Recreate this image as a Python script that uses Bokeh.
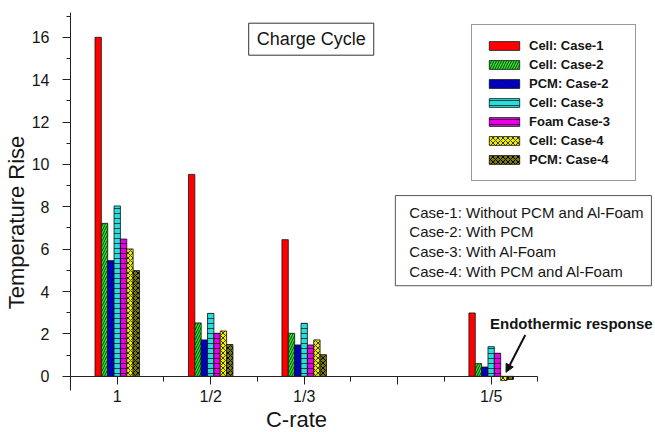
import math
from bokeh.plotting import figure
from bokeh.models import (Range1d, LinearAxis, FixedTicker, SingleIntervalTicker,
                          Legend, LegendItem, Label, Arrow, NormalHead)
from bokeh.embed import file_html
from bokeh.resources import INLINE

# ---- data ----
c_rate_labels = ["1", "1/2", "1/3", "1/5"]
c_rate_pos = [1, 2, 3, 5]

series_names = ["Cell: Case-1", "Cell: Case-2", "PCM: Case-2", "Cell: Case-3",
                "Foam Case-3", "Cell: Case-4", "PCM: Case-4"]
cell_case1 = [16.0, 9.53, 6.45, 2.99]
cell_case2 = [7.22, 2.52, 2.03, 0.60]
pcm_case2 = [5.46, 1.72, 1.48, 0.44]
cell_case3 = [8.04, 2.97, 2.50, 1.40]
foam_case3 = [6.48, 2.03, 1.48, 1.09]
cell_case4 = [6.01, 2.14, 1.72, -0.20]
pcm_case4 = [4.99, 1.50, 1.02, -0.15]
series_values = [cell_case1, cell_case2, pcm_case2, cell_case3, foam_case3, cell_case4, pcm_case4]

# ---- styles ----
fills = ["#FF0000", "#2EEA2E", "#0000E6", "#2ADCDC", "#E600E6", "#EEEE00", "#7A7A00"]
hatches = [None, "/", "/", "-", "-", "x", "x"]
hatch_cols = [None, "#0E3A0E", "#000070", "#0A4A4A", "#4A004A", "#3A3A00", "#000000"]
FONT = "Liberation Sans"
TXT = "#151515"
AX = "#222222"

# frame spans the whole height down to the window bottom; the y axis line is bounded
p = figure(width=655, height=432, x_range=Range1d(0.5, 6.758), y_range=Range1d(-2.651, 17.17),
           output_backend="svg", toolbar_location=None, x_axis_type=None,
           min_border_left=68, min_border_right=0, min_border_top=12, min_border_bottom=0)
p.outline_line_color = None
p.grid.visible = False
p.background_fill_color = "white"
p.border_fill_color = "white"

# y axis
ya = p.yaxis[0]
ya.bounds = (-0.66, 17.17)
ya.ticker = SingleIntervalTicker(interval=2, num_minor_ticks=2)
ya.major_tick_out = 8
ya.major_tick_in = 0
ya.minor_tick_out = 4
ya.minor_tick_in = 0
ya.major_label_standoff = 13
ya.major_label_text_font = FONT
ya.major_label_text_font_size = "16px"
ya.major_label_text_color = TXT
ya.axis_line_color = AX
ya.major_tick_line_color = AX
ya.minor_tick_line_color = AX

# y axis title (separate axis so the title is centred like the reference)
yt = LinearAxis(ticker=FixedTicker(ticks=[]), bounds=(0.23, 17.17), axis_line_color=None,
                major_tick_line_color=None, minor_tick_line_color=None,
                major_tick_out=0, major_tick_in=0, minor_tick_out=0, minor_tick_in=0,
                major_label_standoff=0, axis_label="Temperature Rise",
                axis_label_standoff=0, axis_label_text_font=FONT,
                axis_label_text_font_size="22px", axis_label_text_font_style="normal",
                axis_label_text_color=TXT)
p.add_layout(yt, "left")

# x axis line + ticks at y = 0
major_x = [1, 2, 3, 4, 5]
minor_x = [1.5, 2.5, 3.5, 4.5, 5.5]
xa = LinearAxis(fixed_location=0, bounds=(0.5, 5.5),
                ticker=FixedTicker(ticks=major_x, minor_ticks=minor_x),
                major_tick_in=0, major_tick_out=8, minor_tick_in=0, minor_tick_out=5,
                major_label_text_font_size="1px", major_label_text_color=None,
                major_label_standoff=0,
                axis_line_color=AX, major_tick_line_color=AX, minor_tick_line_color=AX)
p.add_layout(xa, "below")

# x tick labels + title, also anchored at y = 0
overrides = {pos: lab for pos, lab in zip(c_rate_pos, c_rate_labels)}
xb = LinearAxis(fixed_location=0, ticker=FixedTicker(ticks=c_rate_pos),
                major_label_overrides=overrides,
                bounds=(0.5, 5.33), axis_line_color=None, major_tick_line_color=None,
                minor_tick_line_color=None, major_tick_out=8, major_tick_in=0,
                minor_tick_out=0, minor_tick_in=0, major_label_standoff=4,
                major_label_text_font=FONT, major_label_text_font_size="16px",
                major_label_text_color=TXT, axis_label="C-rate", axis_label_standoff=-2,
                axis_label_text_font=FONT, axis_label_text_font_size="22px",
                axis_label_text_font_style="normal", axis_label_text_color=TXT)
p.add_layout(xb, "below")

# bars
bar_w = 0.068
items = []
for i, (name, vals) in enumerate(zip(series_names, series_values)):
    k = i - 3
    xs = [c + k * bar_w for c in c_rate_pos]
    kw = dict(fill_color=fills[i], line_color="#111", line_width=0.8)
    if hatches[i]:
        kw.update(hatch_pattern=hatches[i], hatch_color=hatch_cols[i], hatch_scale=5, hatch_weight=1)
    r = p.vbar(x=xs, top=vals, bottom=0, width=bar_w, **kw)
    items.append(LegendItem(label=name, renderers=[r]))

legend = Legend(items=items, location=(401, 251), glyph_width=38, glyph_height=11,
                label_height=12, label_width=93, spacing=4, padding=13, label_standoff=6,
                margin=0, label_text_font=FONT, label_text_font_size="13px",
                label_text_font_style="bold", label_text_color=TXT,
                border_line_color="#333", border_line_width=1,
                background_fill_color="white", background_fill_alpha=1)
p.add_layout(legend)

# annotation boxes
p.add_layout(Label(x=3.075, y=15.91, text="Charge Cycle", text_align="center",
                   text_baseline="middle", text_font=FONT, text_font_size="18px",
                   text_color=TXT, border_line_color="#333", border_line_width=1,
                   background_fill_color="white",
                   padding=dict(left=8, right=8, top=6, bottom=6)))
p.add_layout(Label(x=3.975, y=8.53,
                   text="Case-1: Without PCM and Al-Foam\nCase-2: With PCM\nCase-3: With Al-Foam\nCase-4: With PCM and Al-Foam",
                   text_align="left", text_baseline="top", text_font=FONT, text_font_size="15px",
                   text_line_height=1.16, text_color=TXT, border_line_color="#555",
                   border_line_width=1, background_fill_color="white",
                   padding=dict(left=14, right=7, top=8, bottom=6)))
p.add_layout(Label(x=4.988, y=2.50, text="Endothermic response", text_align="left",
                   text_baseline="alphabetic", text_font=FONT, text_font_size="15px",
                   text_font_style="bold", text_color=TXT))
p.add_layout(Arrow(x_start=5.365, y_start=1.954, x_end=5.159, y_end=0.19, line_width=2,
                   line_color="#111",
                   end=NormalHead(size=8, fill_color="#111", line_color="#111")))

open("out.html", "w").write(file_html(p, INLINE))
